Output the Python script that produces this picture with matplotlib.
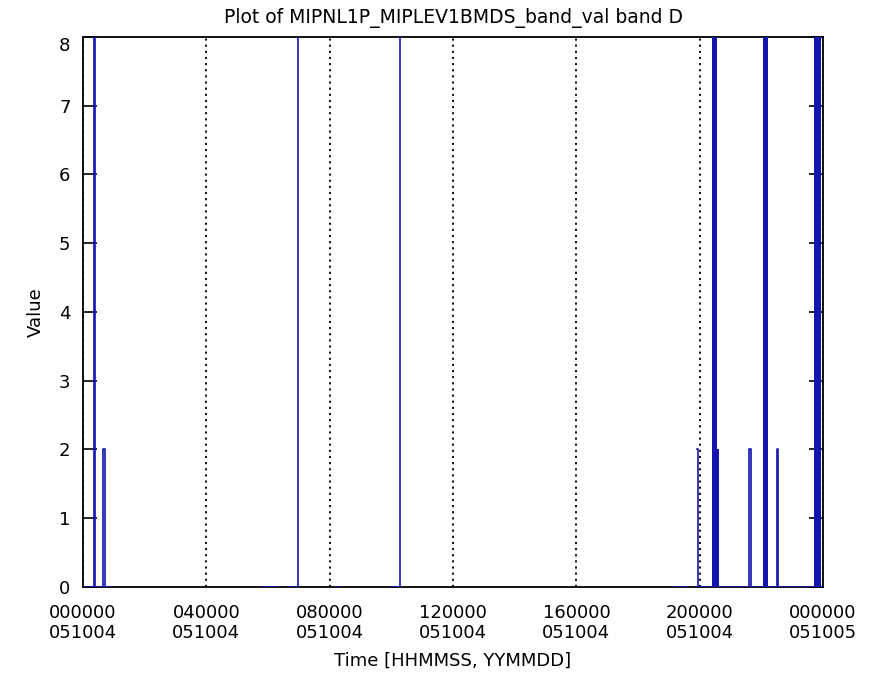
import numpy as np
import matplotlib
matplotlib.use("Agg")
import matplotlib.pyplot as plt

# time in seconds after 000000 051004, value of band D
# sparse samples, drawn as a step line; NaN breaks the line where there is no data
HIGH = 10.0  # spikes run off the top of the plot
seg_times = [
    [0, 1280, 1400, 2330, 2520, 3150],
    [20670, 22770],
    [23820, 25150, 25220],
    [29660, 30010],
    [35850, 37000, 37100],
    [69000, 70760],
    [71700, 71790, 77760, 78000, 80980, 81150, 86400],
]
seg_values = [
    [0, HIGH, 0, 2, 0, 0],
    [0, 0],
    [0, HIGH, HIGH],
    [0, 0],
    [0, HIGH, HIGH],
    [0, 0],
    [2, 0, 2, 0, 2, 0, 0],
]

# dense bursts where the samples flip between 0 and high values
burst_start = [73440, 73440, 79400, 85350]
burst_end = [74030, 74260, 79980, 86170]
burst_value = [HIGH, 2, HIGH, HIGH]

tick_pos = [0, 14400, 28800, 43200, 57600, 72000, 86400]
tick_hms = ["000000", "040000", "080000", "120000", "160000", "200000", "000000"]
tick_ymd = ["051004", "051004", "051004", "051004", "051004", "051004", "051005"]

blue = "#1414b0"

t = []
v = []
for ts, vs in zip(seg_times, seg_values):
    t += ts + [np.nan]
    v += vs + [np.nan]
t = np.array(t, dtype=float)
v = np.array(v, dtype=float)

plt.rcParams["font.family"] = ["DejaVu Sans"]
fig = plt.figure(figsize=(8.73, 6.75), dpi=100)
ax = fig.add_axes([0.0951, 0.1304, 0.8477, 0.8148])

ax.plot(t, v, drawstyle="steps-post", color=blue, lw=1.2, zorder=3)
ax.bar(burst_start, np.array(burst_value),
       width=np.array(burst_end) - np.array(burst_start),
       align="edge", color=blue, linewidth=0, zorder=3)

ax.set_xlim(0, 86400)
ax.set_ylim(0, 8)

ax.set_xticks(tick_pos)
ax.set_xticklabels([f"{a}\n{b}" for a, b in zip(tick_hms, tick_ymd)])
ax.set_yticks(range(0, 9))
ax.tick_params(axis="x", length=0, pad=12, labelsize=13)
ax.tick_params(axis="y", direction="in", length=10, width=1.2, pad=9,
               labelsize=13, right=True)
ax.grid(axis="x", color="black", linestyle=(0, (1.2, 2.2)), linewidth=1.3)
ax.set_axisbelow(True)

# IDL-style: top label sits inside the plot range
ax.get_yticklabels()[-1].set_verticalalignment("top")

for s in ax.spines.values():
    s.set_linewidth(1.3)

ax.set_title("Plot of MIPNL1P_MIPLEV1BMDS_band_val band D", fontsize=13.5, pad=10)
ax.set_xlabel("Time [HHMMSS, YYMMDD]", fontsize=13, labelpad=7)
ax.set_ylabel("Value", fontsize=13, labelpad=10)

fig.savefig("out.png", dpi=100)
